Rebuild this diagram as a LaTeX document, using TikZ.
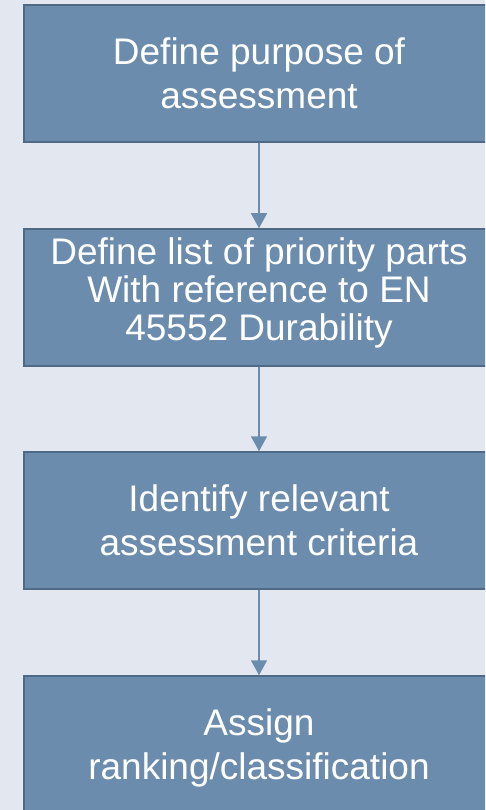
\documentclass[tikz,border=0pt]{standalone}
\usepackage{fontspec}
\setmainfont{Liberation Sans}
\usetikzlibrary{arrows.meta}
\definecolor{bg}{HTML}{E3E8F0}
\definecolor{boxfill}{HTML}{6B8CAD}
\definecolor{boxline}{HTML}{4F6A87}
\definecolor{arrowc}{HTML}{6B8CAD}
\begin{document}
\begin{tikzpicture}[x=1pt,y=1pt,
  stepbox/.style={draw=boxline, line width=1.5pt, fill=boxfill, text=white,
    minimum width=470pt, minimum height=137pt, inner sep=0pt, align=center,
    font=\fontsize{37}{44}\selectfont},
  flow/.style={draw=arrowc, line width=1.5pt, -{Triangle[width=16pt,length=15pt]}}]
\useasboundingbox (0,0) rectangle (485,-810);
\clip (0,0) rectangle (485,-810);
\fill[bg] (0,0) rectangle (485,-810);
\node[stepbox] (b1) at (259,-73.5) {Define purpose of\\assessment};
\node[stepbox, font=\fontsize{37}{38}\selectfont, text depth=16pt] (b2) at (259,-297.5) {Define list of priority parts\\With reference to EN\\45552 Durability};
\node[stepbox] (b3) at (259,-520.5) {Identify relevant\\assessment criteria};
\node[stepbox, text depth=0pt] (b4) at (259,-744.5) {Assign\\ranking/classification};
\draw[flow] (b1) -- (b2);
\draw[flow] (b2) -- (b3);
\draw[flow] (b3) -- (b4);
\end{tikzpicture}
\end{document}
